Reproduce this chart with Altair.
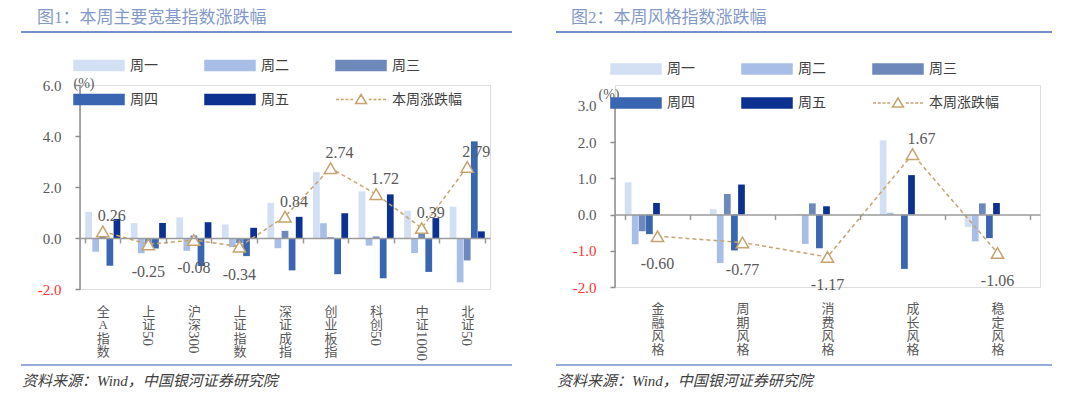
import altair as alt
import pandas as pd

SERIES = ["周一", "周二", "周三", "周四", "周五"]
LINE_NAME = "本周涨跌幅"
BAR_COLORS = ["#d3dff2", "#a9bee7", "#6f88bb", "#3a66b1", "#0c3190"]
LINE_COLOR = "#c6a46f"
SERIF = "Liberation Serif, Noto Sans CJK SC"

# ---- chart 1 data ----
title1 = "图1：本周主要宽基指数涨跌幅"
cats1 = ["全A指数", "上证50", "沪深300", "上证指数", "深证成指", "创业板指", "科创50", "中证1000", "北证50"]
mon1 = [1.03, 0.58, 0.81, 0.53, 1.38, 2.58, 1.83, 1.07, 1.23]
tue1 = [-0.54, -0.60, -0.50, -0.36, -0.40, 0.58, -0.30, -0.59, -1.74]
wed1 = [0.08, -0.35, 0.10, -0.20, 0.28, 0.03, 0.06, 0.45, -0.88]
thu1 = [-1.09, -0.41, -1.10, -0.71, -1.27, -1.42, -1.58, -1.33, 3.79]
fri1 = [0.75, 0.59, 0.62, 0.40, 0.83, 0.97, 1.71, 0.78, 0.26]
week1 = [0.26, -0.25, -0.08, -0.34, 0.84, 2.74, 1.72, 0.39, 2.79]
yticks1 = [-2, 0, 2, 4, 6]

# ---- chart 2 data ----
title2 = "图2：本周风格指数涨跌幅"
cats2 = ["金融风格", "周期风格", "消费风格", "成长风格", "稳定风格"]
mon2 = [0.89, 0.15, 0.02, 2.05, -0.34]
tue2 = [-0.82, -1.34, -0.81, 0.05, -0.74]
wed2 = [-0.46, 0.57, 0.31, 0.00, 0.31]
thu2 = [-0.54, -0.99, -0.93, -1.50, -0.65]
fri2 = [0.32, 0.83, 0.23, 1.09, 0.32]
week2 = [-0.60, -0.77, -1.17, 1.67, -1.06]
yticks2 = [-2, -1, 0, 1, 2, 3]

source_text = "资料来源：Wind，中国银河证券研究院"
unit_text = "(%)"

RECT = "M-1,-0.2H1V0.2H-1Z"
LINE_SYM = ("M-1,0H-0.88M-0.81,0H-0.69M-0.62,0H-0.5M-0.43,0H-0.31"
            "M0.31,0H0.43M0.5,0H0.62M0.69,0H0.81M0.88,0H1"
            "M0,-0.2L0.22,0.16L-0.22,0.16Z")

ALL = SERIES + [LINE_NAME]
fill_scale = alt.Scale(domain=ALL, range=BAR_COLORS + ["white"])
stroke_scale = alt.Scale(domain=ALL, range=BAR_COLORS + [LINE_COLOR])
shape_scale = alt.Scale(domain=ALL, range=[RECT] * 5 + [LINE_SYM])
MINUS_FIX = "replace(format({v}, '{f}'), '\u2212', '-')"


def panel(title, cats, vals, week, yticks, ymax, W, H, g):
    ymin = yticks[0]
    zero_y = H * ymax / (ymax - ymin)
    top_tick_y = H * (ymax - yticks[-1]) / (ymax - ymin)
    bars = pd.DataFrame([
        {"cat": c, "series": s, "value": v[i]}
        for s, v in zip(SERIES, vals) for i, c in enumerate(cats)
    ])
    wk = pd.DataFrame({"cat": cats, "week": week})
    one = pd.DataFrame({"t": [title], "src": [source_text]})
    xs = alt.Scale(paddingInner=0.23, paddingOuter=0.115)
    xenc = alt.X("cat:N", sort=cats, scale=xs, axis=alt.Axis(
        orient="bottom", offset=zero_y - H, title=None, labelAngle=0,
        labelExpr="split(replace(datum.label, regexp('[0-9]+', 'g'), ''), '')",
        labelFont=SERIF, labelFontSize=13, labelLineHeight=13.5,
        labelColor="#595959", labelPadding=g["lp"], labelBaseline="top",
        labelOverlap=False, domainColor="#9a9a9a", domainWidth=1.5,
        tickColor="#9a9a9a", tickWidth=1.5, tickSize=5, tickBand="extent", zindex=1))
    yenc = alt.Y("value:Q", scale=alt.Scale(domain=[ymin, ymax], nice=False, zero=False),
                 axis=alt.Axis(values=yticks, grid=False, domain=False,
                               labelExpr=MINUS_FIX.format(v="datum.value", f=".1f"),
                               labelFont=SERIF, labelFontSize=15,
                               labelColor={"condition": {"test": "datum.value < 0", "value": "#ff3030"},
                                           "value": "#595959"},
                               labelPadding=14,
                               tickColor="#8c8c8c", tickSize=5, tickWidth=1.5,
                               title=unit_text, titleAngle=0, titleX=g["tx"], titleY=g["ty"],
                               titleAlign="left", titleBaseline="middle", titleFont=SERIF,
                               titleFontSize=14, titleFontWeight="normal", titleColor="#595959"))

    leg = alt.Legend(orient="none", legendX=g["lx"], legendY=g["ly"], columns=3,
                     direction="horizontal",
                     columnPadding=44, rowPadding=g["rp"], symbolSize=2500,
                     symbolStrokeWidth=1.5, labelFont=SERIF, labelFontSize=14,
                     labelColor="#404040", labelOffset=5, title=None, padding=0)
    bar = alt.Chart(bars).mark_bar().encode(
        x=xenc,
        xOffset=alt.XOffset("series:N", sort=SERIES, scale=alt.Scale(paddingInner=0.05)),
        y=yenc,
        fill=alt.Fill("series:N", scale=fill_scale, legend=leg),
    )
    legend_layer = alt.Chart(pd.DataFrame({"series": ALL})).transform_filter("false").mark_point(
        opacity=1, strokeWidth=1.5).encode(
        fill=alt.Fill("series:N", scale=fill_scale, legend=leg),
        stroke=alt.Stroke("series:N", scale=stroke_scale, legend=leg),
        shape=alt.Shape("series:N", scale=shape_scale, legend=leg),
    )
    base = alt.Chart(wk).encode(x=alt.X("cat:N", sort=cats),
                                y=alt.Y("week:Q"))
    line = base.mark_line(color=LINE_COLOR, strokeDash=[4, 3], strokeWidth=1.5)
    pts = base.mark_point(shape="triangle-up", size=150, filled=True, fill="white",
                          stroke=LINE_COLOR, strokeWidth=1.5, opacity=1)
    labtxt = base.transform_calculate(lbl=MINUS_FIX.format(v="datum.week", f=".2f"))
    lab_pos = labtxt.transform_filter("datum.week >= 0").mark_text(
        font=SERIF, fontSize=16, color="#595959", dy=-15, dx=9).encode(text="lbl:N")
    lab_neg = labtxt.transform_filter("datum.week < 0").mark_text(
        font=SERIF, fontSize=16, color="#595959", dy=28).encode(text="lbl:N")
    digits = alt.Chart(pd.DataFrame({"cat": cats})).transform_calculate(
        dg="replace(datum.cat, regexp('[^0-9]', 'g'), '')").transform_filter(
        "datum.dg != ''").mark_text(angle=90, align="left", baseline="middle",
                                      font=SERIF, fontSize=15, color="#595959").encode(
        x=alt.X("cat:N", sort=cats), y=alt.value(zero_y + 5 + g["lp"] + 26), text="dg:N")
    yline = alt.Chart(one).mark_rule(color="#8c8c8c", strokeWidth=1.5).encode(
        x=alt.value(0), y=alt.value(top_tick_y), y2=alt.value(H))
    ttl = alt.Chart(one).mark_text(align="left", baseline="middle", font=SERIF,
                                   fontSize=17, color="#8399c9").encode(
        x=alt.value(g["tix"]), y=alt.value(g["tiy"]), text="t:N")
    rule_top = alt.Chart(one).mark_rule(color="#7490cc", strokeWidth=2).encode(
        x=alt.value(g["rx1"]), x2=alt.value(g["rx2"]), y=alt.value(g["rty"]))
    rule_bot = alt.Chart(one).mark_rule(color="#7490cc", strokeWidth=1.5).encode(
        x=alt.value(g["rx1"]), x2=alt.value(g["rx2"]), y=alt.value(g["rby"]))
    src = alt.Chart(one).mark_text(align="left", baseline="middle", font=SERIF,
                                   fontSize=15, fontStyle="italic", color="#404040").encode(
        x=alt.value(g["sx"]), y=alt.value(g["sy"]), text="src:N")
    return alt.layer(bar, legend_layer, yline, line, pts, lab_pos, lab_neg, digits,
                     ttl, rule_top, rule_bot, src).properties(width=W, height=H)


g1 = dict(lp=62, tx=-7, ty=-2, lx=-7, ly=-45.5, rp=-3, tix=-43, tiy=-67.5,
          rx1=-59, rx2=432, rty=-53, rby=280, sx=-58, sy=296)
g2 = dict(lp=83, tx=-17, ty=9, lx=-5, ly=-42, rp=-3, tix=-44, tiy=-67.5,
          rx1=-59, rx2=437, rty=-53, rby=280, sx=-58, sy=296)

left = panel(title1, cats1, [mon1, tue1, wed1, thu1, fri1], week1, yticks1, 6, 410, 204, g1)
right = panel(title2, cats2, [mon2, tue2, wed2, thu2, fri2], week2, yticks2, 3.58, 425, 202, g2)

chart = alt.hconcat(left, right, spacing=40).resolve_scale(
    fill="independent", stroke="independent", shape="independent"
).resolve_legend(
    fill="independent", stroke="independent", shape="independent"
).properties(
    padding={"left": 11, "top": 0, "right": 0, "bottom": 0}
).configure_view(stroke=None).configure(background="white")

chart.save("out.html", embed_options={"renderer": "svg", "actions": False})
